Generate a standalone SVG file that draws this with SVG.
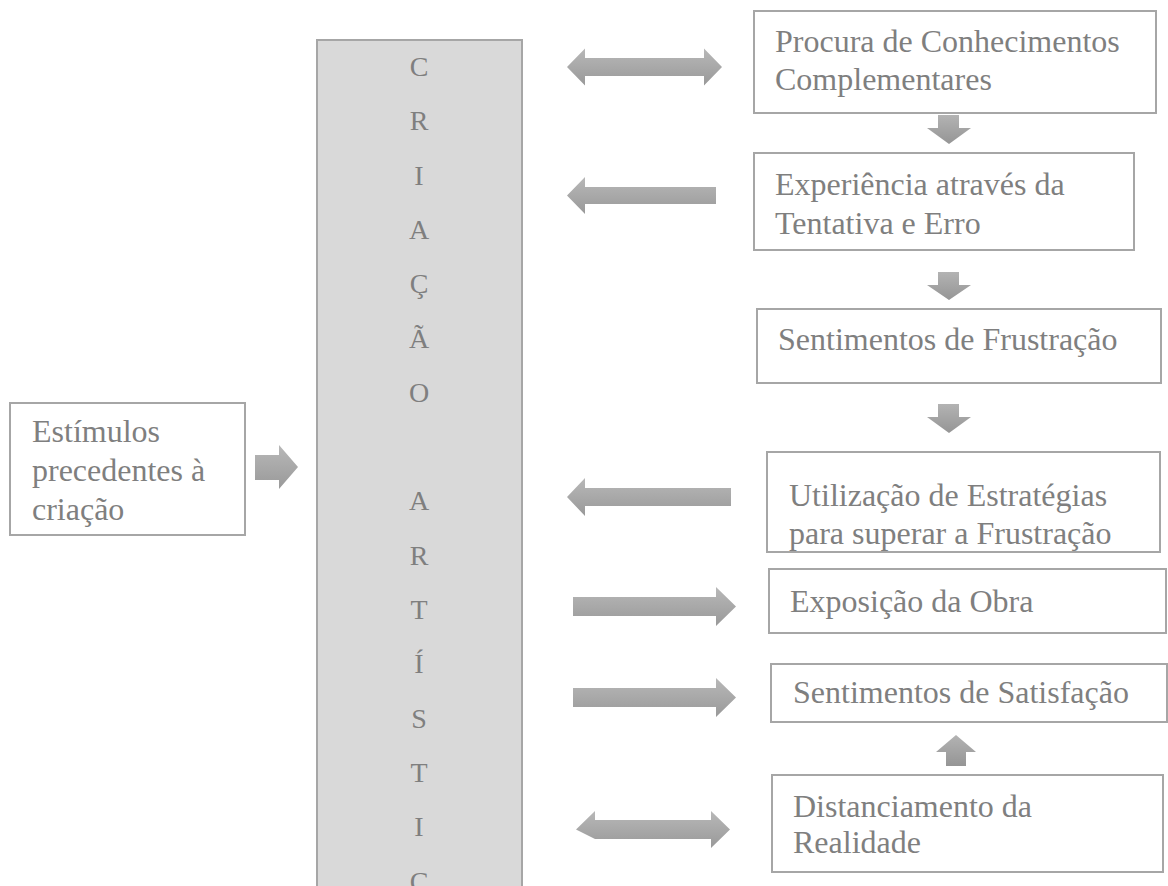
<svg xmlns="http://www.w3.org/2000/svg" width="1168" height="886" viewBox="0 0 1168 886">
<defs>
<linearGradient id="gh" x1="0" y1="0" x2="0" y2="1">
<stop offset="0" stop-color="#b8b8b8"/>
<stop offset="1" stop-color="#999999"/>
</linearGradient>
<linearGradient id="gv" x1="0" y1="0" x2="0" y2="1">
<stop offset="0" stop-color="#b3b3b3"/>
<stop offset="1" stop-color="#959595"/>
</linearGradient>
<style>
.box{fill:#ffffff;stroke:#a6a6a6;stroke-width:2}
.col{fill:#d9d9d9;stroke:#a6a6a6;stroke-width:2}
.t{font-family:"Liberation Serif","Times New Roman",serif;font-size:32px;fill:#7f7f7f}
.l{font-family:"Liberation Serif","Times New Roman",serif;font-size:28px;fill:#7f7f7f;text-anchor:middle}
.ah{fill:url(#gh)}
.av{fill:url(#gv)}
</style>
</defs>
<rect width="1168" height="886" fill="#ffffff"/>

<g id="criacao-artistica">
<rect class="col" x="317" y="40" width="205" height="860"/>
<text class="l" x="419" y="76">C</text>
<text class="l" x="419" y="130">R</text>
<text class="l" x="419" y="185">I</text>
<text class="l" x="419" y="239">A</text>
<text class="l" x="419" y="293">Ç</text>
<text class="l" x="419" y="348">Ã</text>
<text class="l" x="419" y="402">O</text>
<text class="l" x="419" y="510">A</text>
<text class="l" x="419" y="565">R</text>
<text class="l" x="419" y="619">T</text>
<text class="l" x="419" y="673">Í</text>
<text class="l" x="419" y="728">S</text>
<text class="l" x="419" y="782">T</text>
<text class="l" x="419" y="836">I</text>
<text class="l" x="419" y="891">C</text>
</g>

<g id="estimulos">
<rect class="box" x="10" y="403" width="235" height="132"/>
<text class="t" x="32" y="442">Estímulos</text>
<text class="t" x="32" y="481">precedentes à</text>
<text class="t" x="32" y="520">criação</text>
</g>

<g id="procura">
<rect class="box" x="754" y="11" width="402" height="102"/>
<text class="t" x="775" y="52">Procura de Conhecimentos</text>
<text class="t" x="775" y="90">Complementares</text>
</g>

<g id="experiencia">
<rect class="box" x="754" y="153" width="380" height="97"/>
<text class="t" x="775" y="195">Experiência através da</text>
<text class="t" x="775" y="234">Tentativa e Erro</text>
</g>

<g id="frustracao">
<rect class="box" x="757" y="309" width="404" height="74"/>
<text class="t" x="778" y="350">Sentimentos de Frustração</text>
</g>

<g id="estrategias">
<rect class="box" x="767" y="452" width="393" height="100"/>
<text class="t" x="789" y="506">Utilização de Estratégias</text>
<text class="t" x="789" y="544">para superar a Frustração</text>
</g>

<g id="exposicao">
<rect class="box" x="769" y="569" width="397" height="64"/>
<text class="t" x="790" y="612">Exposição da Obra</text>
</g>

<g id="satisfacao">
<rect class="box" x="771" y="664" width="396" height="58"/>
<text class="t" x="793" y="703">Sentimentos de Satisfação</text>
</g>

<g id="distanciamento">
<rect class="box" x="772" y="775" width="391" height="97"/>
<text class="t" x="793" y="817">Distanciamento da</text>
<text class="t" x="793" y="853">Realidade</text>
</g>

<g id="connectors">
<polygon class="ah" points="567,67 585,48.5 585,58 704,58 704,48.5 722,67 704,85.5 704,76 585,76 585,85.5"/>
<polygon class="ah" points="567,195.5 585,177 585,187 716,187 716,204 585,204 585,214"/>
<polygon class="ah" points="255,455 279,455 279,445 298,467 279,489 279,480 255,480"/>
<polygon class="ah" points="567,497 585,478 585,488 731,488 731,506 585,506 585,516"/>
<polygon class="ah" points="573,597 716,597 716,587 736,606.5 716,626 716,616 573,616"/>
<polygon class="ah" points="573,688 716,688 716,678 736,697.5 716,717 716,707 573,707"/>
<polygon class="ah" points="576,829.5 595,811 595,820 711,820 711,811 730,829.5 711,848 711,839 595,839"/>
<polygon class="av" points="938,115 959,115 959,128 971,128 949,144 927,128 938,128"/>
<polygon class="av" points="938,272 959,272 959,285 971,285 949,300 927,285 938,285"/>
<polygon class="av" points="938,404 959,404 959,417 971,417 949,433 927,417 938,417"/>
<polygon class="av" points="956,735 976,752 966,752 966,766 946,766 946,752 936,752"/>
</g>
</svg>
